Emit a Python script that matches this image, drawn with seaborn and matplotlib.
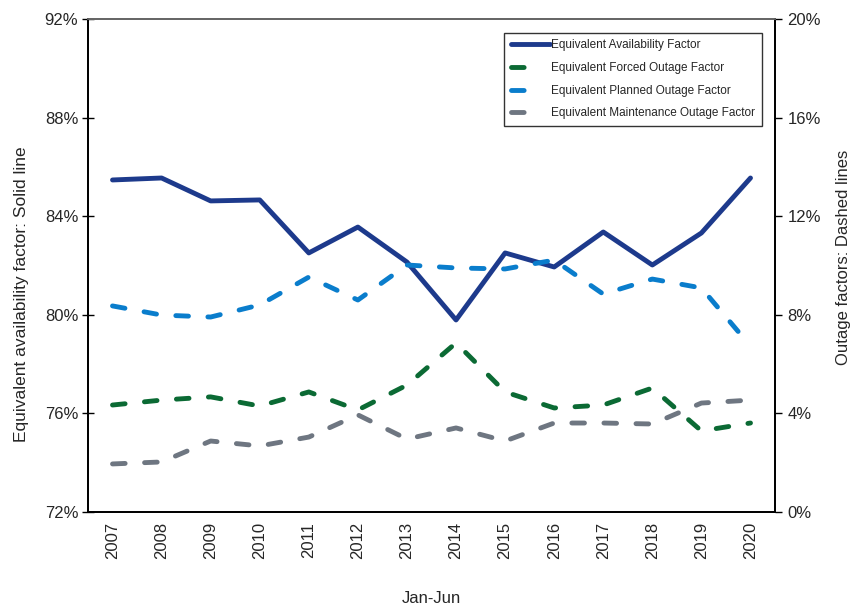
import matplotlib
matplotlib.use('Agg')
from matplotlib import pyplot as plt
from matplotlib.lines import Line2D
from matplotlib.ticker import FuncFormatter, MultipleLocator
import pandas as pd
import seaborn as sn

# ----- Datos -----
years = ['2007', '2008', '2009', '2010', '2011', '2012', '2013',
         '2014', '2015', '2016', '2017', '2018', '2019', '2020']
eaf = [85.47, 85.55, 84.62, 84.66, 82.51, 83.56, 82.14,
       79.79, 82.51, 81.94, 83.36, 82.02, 83.32, 85.55]
efof = [4.34, 4.54, 4.67, 4.30, 4.87, 4.14, 5.15,
        6.86, 4.87, 4.22, 4.34, 5.03, 3.29, 3.61]
epof = [8.36, 7.99, 7.91, 8.40, 9.53, 8.60, 10.02,
        9.90, 9.86, 10.22, 8.84, 9.45, 9.09, 6.73]
emof = [1.95, 2.03, 2.88, 2.68, 3.04, 3.94, 2.96,
        3.41, 2.88, 3.61, 3.61, 3.57, 4.42, 4.54]

names = ['Equivalent Availability Factor', 'Equivalent Forced Outage Factor',
         'Equivalent Planned Outage Factor', 'Equivalent Maintenance Outage Factor']
colores = ['#1d3a8c', '#0b6a34', '#0a7dcc', '#6e7681']

df = pd.DataFrame({'pos': range(len(years)), 'eaf': eaf,
                   'efof': efof, 'epof': epof, 'emof': emof})

# ----- Figura -----
sn.set_style('white')
plt.rcParams['font.family'] = ['Liberation Sans', 'DejaVu Sans']
fig = plt.figure(figsize=(8.5, 6.07), dpi=100)
ax = fig.add_axes([0.1035, 0.1565, 0.8083, 0.8122])
ax2 = ax.twinx()

lw = 3.5
dash = (2.6, 4.0)
sn.lineplot(data=df, x='pos', y='eaf', ax=ax, color=colores[0], lw=lw, legend=False)
for col, c in zip(['efof', 'epof', 'emof'], colores[1:]):
    sn.lineplot(data=df, x='pos', y=col, ax=ax2, color=c, lw=lw, legend=False)
for ln in ax2.get_lines():
    ln.set_dashes(dash)
    ln.set_dash_capstyle('round')
for ln in ax.get_lines():
    ln.set_solid_capstyle('round')

ax.set_xlim(-0.5, len(years) - 0.5)
ax.set_ylim(72, 92)
ax2.set_ylim(0, 20)
ax.yaxis.set_major_locator(MultipleLocator(4))
ax2.yaxis.set_major_locator(MultipleLocator(4))
ax.yaxis.set_major_formatter(FuncFormatter(lambda v, p: f'{v:.0f}%'))
ax2.yaxis.set_major_formatter(FuncFormatter(lambda v, p: f'{v:.0f}%'))

# categorias centradas, marcas en los limites
ax.set_xticks([i - 0.5 for i in range(len(years) + 1)])
ax.set_xticklabels([])
ax.set_xticks(range(len(years)), minor=True)
ax.set_xticklabels(years, minor=True, rotation=90, fontsize=12)
ax.tick_params(axis='x', which='major', direction='out', length=6, width=1, color='black')
ax.tick_params(axis='x', which='minor', length=0, pad=7)
ax.tick_params(axis='y', direction='inout', length=8, width=1, color='black', labelsize=12, pad=3)
ax2.tick_params(axis='y', direction='out', length=5, width=1, color='black', labelsize=12, pad=4)

for a in (ax, ax2):
    for sp in a.spines.values():
        sp.set_color('black')
        sp.set_linewidth(1.3)
    a.spines['top'].set_color('#666666')

ax.set_xlabel('Jan-Jun', fontsize=12, labelpad=23)
ax.set_ylabel('Equivalent availability factor: Solid line', fontsize=12.5)
ax2.set_ylabel('Outage factors: Dashed lines', fontsize=12)
ax.yaxis.set_label_coords(-0.086, 0.442)
ax2.yaxis.set_label_coords(1.089, 0.517)

# leyenda estilo Excel: un solo trazo en las discontinuas
handles = [Line2D([], [], color=colores[0], lw=lw, solid_capstyle='round')]
for c in colores[1:]:
    handles.append(Line2D([], [], color=c, lw=lw, dashes=(2.6, 12),
                          dash_capstyle='round'))
leg = ax2.legend(handles, names, loc='upper right', bbox_to_anchor=(0.981, 0.9716),
                 borderaxespad=0, frameon=True, fancybox=False, edgecolor='black',
                 fontsize=8.5, handlelength=3.3, labelspacing=0.9, borderpad=0.55,
                 handletextpad=0.15)
leg.get_frame().set_linewidth(1)

fig.savefig('out.png', dpi=100)
